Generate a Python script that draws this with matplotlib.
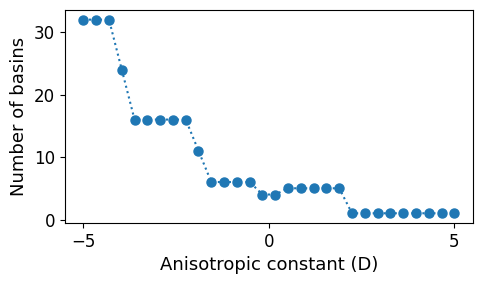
import matplotlib
matplotlib.use("Agg")
import matplotlib.pyplot as plt

# anisotropic constant values (30 evenly spaced points from -5 to 5)
D = [-5.0, -4.655, -4.310, -3.966, -3.621, -3.276, -2.931, -2.586, -2.241, -1.897,
     -1.552, -1.207, -0.862, -0.517, -0.172, 0.172, 0.517, 0.862, 1.207, 1.552,
     1.897, 2.241, 2.586, 2.931, 3.276, 3.621, 3.966, 4.310, 4.655, 5.0]
basins = [32, 32, 32, 24, 16, 16, 16, 16, 16, 11,
          6, 6, 6, 6, 4, 4, 5, 5, 5, 5,
          5, 1, 1, 1, 1, 1, 1, 1, 1, 1]

fig = plt.figure(figsize=(4.84, 2.84), dpi=100)
ax = fig.add_axes([0.134, 0.215, 0.843, 0.75])
ax.plot(D, basins, linestyle=":", marker="o", markersize=6.5, color="tab:blue")
ax.set_xlabel("Anisotropic constant (D)", fontsize=13)
ax.set_ylabel("Number of basins", fontsize=13)
ax.set_xticks([-5, 0, 5])
ax.set_yticks([0, 10, 20, 30])
ax.tick_params(labelsize=12)

fig.savefig("out.png", dpi=100)
